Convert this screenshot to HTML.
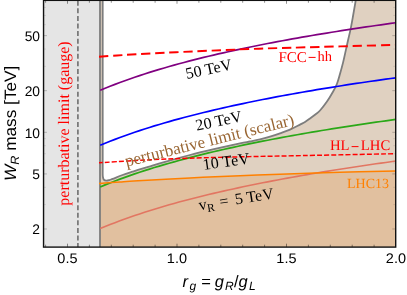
<!DOCTYPE html>
<html><head><meta charset="utf-8"><title>W_R mass vs r_g</title>
<style>
html,body{margin:0;padding:0;background:#fff;}
body{width:407px;height:295px;overflow:hidden;position:relative;font-family:"Liberation Sans",sans-serif;}
svg{position:absolute;left:0;top:0;display:block;transform:translateZ(0);will-change:transform;}
text{white-space:pre;text-rendering:geometricPrecision;}
.sans{font-family:"Liberation Sans",sans-serif;fill:#000;}
.serif{font-family:"Liberation Serif",serif;}
</style></head><body>
<svg width="407" height="295" viewBox="0 0 407 295">
<defs><clipPath id="cp"><rect x="43.55" y="0" width="352.15" height="247.1"/></clipPath></defs>
<rect x="0" y="0" width="407" height="295" fill="#fff"/>
<g clip-path="url(#cp)">
  <!-- gauge band -->
  <rect x="43.55" y="0" width="56.45" height="247.1" fill="#e5e5e5"/>
  <line x1="77.9" y1="0.8" x2="77.9" y2="247.1" stroke="#6e6e6e" stroke-width="1.6" stroke-dasharray="5,2.57"/>
  <!-- scalar region -->
  <path d="M102.70,0 L102.70,170 L102.70,170.00 C102.70,170.67 102.67,172.87 102.70,174.00 C102.73,175.13 102.72,175.87 102.90,176.80 C103.08,177.73 103.22,178.95 103.80,179.60 C104.38,180.25 105.40,180.62 106.35,180.70 C107.30,180.78 108.44,180.40 109.50,180.10 C110.56,179.80 110.52,179.75 112.70,178.90 C114.88,178.05 119.32,176.20 122.60,175.00 C125.88,173.80 129.83,172.55 132.40,171.70 C134.97,170.85 135.37,170.70 138.00,169.90 C140.63,169.10 143.70,168.23 148.20,166.90 C152.70,165.57 158.03,163.88 165.00,161.90 C171.97,159.92 181.67,157.17 190.00,155.00 C198.33,152.83 206.67,150.85 215.00,148.90 C223.33,146.95 234.17,144.53 240.00,143.30 C245.83,142.07 246.67,142.15 250.00,141.50 C253.33,140.85 256.67,140.22 260.00,139.40 C263.33,138.58 266.67,137.62 270.00,136.60 C273.33,135.58 276.67,134.47 280.00,133.30 C283.33,132.13 286.67,131.05 290.00,129.60 C293.33,128.15 297.50,125.87 300.00,124.60 C302.50,123.33 303.33,123.02 305.00,122.00 C306.67,120.98 308.33,119.72 310.00,118.50 C311.67,117.28 313.33,116.03 315.00,114.70 C316.67,113.37 318.00,112.68 320.00,110.50 C322.00,108.32 324.83,104.72 327.00,101.60 C329.17,98.48 331.35,94.73 333.00,91.80 C334.65,88.87 335.75,86.92 336.90,84.00 C338.05,81.08 338.87,77.90 339.90,74.30 C340.93,70.70 342.12,66.38 343.10,62.40 C344.08,58.42 344.97,54.13 345.80,50.40 C346.63,46.67 347.30,43.55 348.10,40.00 C348.90,36.45 349.75,33.27 350.60,29.10 C351.45,24.93 352.33,19.85 353.20,15.00 C354.07,10.15 355.37,2.50 355.80,0.00 L395.70,0 L395.70,247.10 L100,247.10 L100,0 Z" fill="#996633" fill-opacity="0.30" stroke="none"/>
  <!-- LHC13 region -->
  <path d="M99.00,183.60 C102.50,183.32 113.50,182.38 120.00,181.90 C126.50,181.42 126.33,181.37 138.00,180.70 C149.67,180.03 173.00,178.73 190.00,177.90 C207.00,177.07 225.00,176.32 240.00,175.70 C255.00,175.08 263.33,174.77 280.00,174.20 C296.67,173.63 320.72,172.83 340.00,172.30 C359.28,171.77 386.42,171.22 395.70,171.00 L395.70,247.10 L100,247.10 Z" fill="#e57c17" fill-opacity="0.20" stroke="none"/>
  <path d="M102.70,0 L102.70,170 L102.70,170.00 C102.70,170.67 102.67,172.87 102.70,174.00 C102.73,175.13 102.72,175.87 102.90,176.80 C103.08,177.73 103.22,178.95 103.80,179.60 C104.38,180.25 105.40,180.62 106.35,180.70 C107.30,180.78 108.44,180.40 109.50,180.10 C110.56,179.80 110.52,179.75 112.70,178.90 C114.88,178.05 119.32,176.20 122.60,175.00 C125.88,173.80 129.83,172.55 132.40,171.70 C134.97,170.85 135.37,170.70 138.00,169.90 C140.63,169.10 143.70,168.23 148.20,166.90 C152.70,165.57 158.03,163.88 165.00,161.90 C171.97,159.92 181.67,157.17 190.00,155.00 C198.33,152.83 206.67,150.85 215.00,148.90 C223.33,146.95 234.17,144.53 240.00,143.30 C245.83,142.07 246.67,142.15 250.00,141.50 C253.33,140.85 256.67,140.22 260.00,139.40 C263.33,138.58 266.67,137.62 270.00,136.60 C273.33,135.58 276.67,134.47 280.00,133.30 C283.33,132.13 286.67,131.05 290.00,129.60 C293.33,128.15 297.50,125.87 300.00,124.60 C302.50,123.33 303.33,123.02 305.00,122.00 C306.67,120.98 308.33,119.72 310.00,118.50 C311.67,117.28 313.33,116.03 315.00,114.70 C316.67,113.37 318.00,112.68 320.00,110.50 C322.00,108.32 324.83,104.72 327.00,101.60 C329.17,98.48 331.35,94.73 333.00,91.80 C334.65,88.87 335.75,86.92 336.90,84.00 C338.05,81.08 338.87,77.90 339.90,74.30 C340.93,70.70 342.12,66.38 343.10,62.40 C344.08,58.42 344.97,54.13 345.80,50.40 C346.63,46.67 347.30,43.55 348.10,40.00 C348.90,36.45 349.75,33.27 350.60,29.10 C351.45,24.93 352.33,19.85 353.20,15.00 C354.07,10.15 355.37,2.50 355.80,0.00" fill="none" stroke="#7d7d7d" stroke-width="1.8"/>
  <line x1="100" y1="0" x2="100" y2="247.1" stroke="#7d7d7d" stroke-width="1.8"/>
  <!-- vR curves -->
  <path d="M100.20,228.58 L105.12,226.54 L110.05,224.56 L114.98,222.64 L119.90,220.79 L124.83,218.99 L129.75,217.24 L134.68,215.54 L139.60,213.89 L144.53,212.29 L149.45,210.72 L154.38,209.19 L159.30,207.71 L164.23,206.25 L169.15,204.84 L174.07,203.45 L179.00,202.10 L183.93,200.77 L188.85,199.48 L193.78,198.21 L198.70,196.97 L203.62,195.75 L208.55,194.56 L213.48,193.39 L218.40,192.24 L223.32,191.12 L228.25,190.01 L233.18,188.93 L238.10,187.86 L243.02,186.82 L247.95,185.79 L252.88,184.78 L257.80,183.78 L262.73,182.80 L267.65,181.84 L272.57,180.89 L277.50,179.96 L282.43,179.04 L287.35,178.14 L292.27,177.24 L297.20,176.37 L302.12,175.50 L307.05,174.65 L311.98,173.81 L316.90,172.98 L321.82,172.16 L326.75,171.35 L331.68,170.55 L336.60,169.77 L341.52,168.99 L346.45,168.22 L351.38,167.47 L356.30,166.72 L361.22,165.98 L366.15,165.25 L371.07,164.53 L376.00,163.82 L380.93,163.12 L385.85,162.42 L390.77,161.73 L395.70,161.05" fill="none" stroke="#e27662" stroke-width="1.6"/>
  <path d="M100.20,186.95 L105.12,184.90 L110.05,182.93 L114.98,181.01 L119.90,179.16 L124.83,177.36 L129.75,175.61 L134.68,173.91 L139.60,172.26 L144.53,170.65 L149.45,169.09 L154.38,167.56 L159.30,166.07 L164.23,164.62 L169.15,163.20 L174.07,161.82 L179.00,160.47 L183.93,159.14 L188.85,157.85 L193.78,156.58 L198.70,155.34 L203.62,154.12 L208.55,152.93 L213.48,151.76 L218.40,150.61 L223.32,149.49 L228.25,148.38 L233.18,147.30 L238.10,146.23 L243.02,145.19 L247.95,144.16 L252.88,143.14 L257.80,142.15 L262.73,141.17 L267.65,140.21 L272.57,139.26 L277.50,138.33 L282.43,137.41 L287.35,136.50 L292.27,135.61 L297.20,134.73 L302.12,133.87 L307.05,133.01 L311.98,132.17 L316.90,131.34 L321.82,130.52 L326.75,129.72 L331.68,128.92 L336.60,128.13 L341.52,127.36 L346.45,126.59 L351.38,125.83 L356.30,125.09 L361.22,124.35 L366.15,123.62 L371.07,122.90 L376.00,122.19 L380.93,121.48 L385.85,120.79 L390.77,120.10 L395.70,119.42" fill="none" stroke="#2aa818" stroke-width="1.7"/>
  <path d="M100.20,145.32 L105.12,143.27 L110.05,141.29 L114.98,139.38 L119.90,137.52 L124.83,135.72 L129.75,133.98 L134.68,132.28 L139.60,130.63 L144.53,129.02 L149.45,127.45 L154.38,125.93 L159.30,124.44 L164.23,122.99 L169.15,121.57 L174.07,120.19 L179.00,118.83 L183.93,117.51 L188.85,116.21 L193.78,114.95 L198.70,113.71 L203.62,112.49 L208.55,111.30 L213.48,110.13 L218.40,108.98 L223.32,107.85 L228.25,106.75 L233.18,105.67 L238.10,104.60 L243.02,103.55 L247.95,102.52 L252.88,101.51 L257.80,100.52 L262.73,99.54 L267.65,98.58 L272.57,97.63 L277.50,96.69 L282.43,95.78 L287.35,94.87 L292.27,93.98 L297.20,93.10 L302.12,92.24 L307.05,91.38 L311.98,90.54 L316.90,89.71 L321.82,88.89 L326.75,88.08 L331.68,87.29 L336.60,86.50 L341.52,85.72 L346.45,84.96 L351.38,84.20 L356.30,83.45 L361.22,82.72 L366.15,81.99 L371.07,81.27 L376.00,80.55 L380.93,79.85 L385.85,79.16 L390.77,78.47 L395.70,77.79" fill="none" stroke="#0000ff" stroke-width="1.7"/>
  <path d="M100.20,90.28 L105.12,88.24 L110.05,86.26 L114.98,84.34 L119.90,82.49 L124.83,80.69 L129.75,78.94 L134.68,77.24 L139.60,75.59 L144.53,73.99 L149.45,72.42 L154.38,70.89 L159.30,69.41 L164.23,67.95 L169.15,66.54 L174.07,65.15 L179.00,63.80 L183.93,62.47 L188.85,61.18 L193.78,59.91 L198.70,58.67 L203.62,57.45 L208.55,56.26 L213.48,55.09 L218.40,53.94 L223.32,52.82 L228.25,51.71 L233.18,50.63 L238.10,49.56 L243.02,48.52 L247.95,47.49 L252.88,46.48 L257.80,45.48 L262.73,44.50 L267.65,43.54 L272.57,42.59 L277.50,41.66 L282.43,40.74 L287.35,39.84 L292.27,38.94 L297.20,38.07 L302.12,37.20 L307.05,36.35 L311.98,35.51 L316.90,34.68 L321.82,33.86 L326.75,33.05 L331.68,32.25 L336.60,31.47 L341.52,30.69 L346.45,29.92 L351.38,29.17 L356.30,28.42 L361.22,27.68 L366.15,26.95 L371.07,26.23 L376.00,25.52 L380.93,24.82 L385.85,24.12 L390.77,23.43 L395.70,22.75" fill="none" stroke="#800080" stroke-width="1.7"/>
  <path d="M99.00,183.60 C102.50,183.32 113.50,182.38 120.00,181.90 C126.50,181.42 126.33,181.37 138.00,180.70 C149.67,180.03 173.00,178.73 190.00,177.90 C207.00,177.07 225.00,176.32 240.00,175.70 C255.00,175.08 263.33,174.77 280.00,174.20 C296.67,173.63 320.72,172.83 340.00,172.30 C359.28,171.77 386.42,171.22 395.70,171.00" fill="none" stroke="#ff8000" stroke-width="1.5"/>
  <path d="M99.00,56.70 C102.00,56.49 110.83,55.85 117.00,55.45 C123.17,55.05 126.17,54.84 136.00,54.30 C145.83,53.76 158.67,53.02 176.00,52.20 C193.33,51.38 220.67,50.15 240.00,49.40 C259.33,48.65 266.05,48.45 292.00,47.70 C317.95,46.95 378.42,45.37 395.70,44.90" fill="none" stroke="#ff0000" stroke-width="1.9" stroke-dasharray="9.3,4.8"/>
  <path d="M99.00,162.80 C105.83,162.38 124.83,161.07 140.00,160.30 C155.17,159.53 171.67,158.82 190.00,158.20 C208.33,157.58 233.00,157.00 250.00,156.60 C267.00,156.20 267.72,156.28 292.00,155.80 C316.28,155.32 378.42,154.05 395.70,153.70" fill="none" stroke="#ff0000" stroke-width="1.45" stroke-dasharray="5,2.08" stroke-dashoffset="1.2"/>
</g>
<!-- ticks -->
<g stroke="#000" stroke-opacity="0.62" stroke-width="0.7" fill="none">
<line x1="45.60" y1="247.10" x2="45.60" y2="244.70"/>
<line x1="45.60" y1="0.35" x2="45.60" y2="2.75"/>
<line x1="67.50" y1="247.10" x2="67.50" y2="243.70"/>
<line x1="67.50" y1="0.35" x2="67.50" y2="3.75"/>
<line x1="89.40" y1="247.10" x2="89.40" y2="244.70"/>
<line x1="89.40" y1="0.35" x2="89.40" y2="2.75"/>
<line x1="111.30" y1="247.10" x2="111.30" y2="244.70"/>
<line x1="111.30" y1="0.35" x2="111.30" y2="2.75"/>
<line x1="133.20" y1="247.10" x2="133.20" y2="244.70"/>
<line x1="133.20" y1="0.35" x2="133.20" y2="2.75"/>
<line x1="155.10" y1="247.10" x2="155.10" y2="244.70"/>
<line x1="155.10" y1="0.35" x2="155.10" y2="2.75"/>
<line x1="177.00" y1="247.10" x2="177.00" y2="243.70"/>
<line x1="177.00" y1="0.35" x2="177.00" y2="3.75"/>
<line x1="198.90" y1="247.10" x2="198.90" y2="244.70"/>
<line x1="198.90" y1="0.35" x2="198.90" y2="2.75"/>
<line x1="220.80" y1="247.10" x2="220.80" y2="244.70"/>
<line x1="220.80" y1="0.35" x2="220.80" y2="2.75"/>
<line x1="242.70" y1="247.10" x2="242.70" y2="244.70"/>
<line x1="242.70" y1="0.35" x2="242.70" y2="2.75"/>
<line x1="264.60" y1="247.10" x2="264.60" y2="244.70"/>
<line x1="264.60" y1="0.35" x2="264.60" y2="2.75"/>
<line x1="286.50" y1="247.10" x2="286.50" y2="243.70"/>
<line x1="286.50" y1="0.35" x2="286.50" y2="3.75"/>
<line x1="308.40" y1="247.10" x2="308.40" y2="244.70"/>
<line x1="308.40" y1="0.35" x2="308.40" y2="2.75"/>
<line x1="330.30" y1="247.10" x2="330.30" y2="244.70"/>
<line x1="330.30" y1="0.35" x2="330.30" y2="2.75"/>
<line x1="352.20" y1="247.10" x2="352.20" y2="244.70"/>
<line x1="352.20" y1="0.35" x2="352.20" y2="2.75"/>
<line x1="374.10" y1="247.10" x2="374.10" y2="244.70"/>
<line x1="374.10" y1="0.35" x2="374.10" y2="2.75"/>
</g>
<g stroke="#000" stroke-opacity="0.33" stroke-width="0.7" fill="none">
<line x1="43.55" y1="228.97" x2="46.95" y2="228.97"/>
<line x1="395.70" y1="228.97" x2="392.30" y2="228.97"/>
<line x1="43.55" y1="173.93" x2="46.95" y2="173.93"/>
<line x1="395.70" y1="173.93" x2="392.30" y2="173.93"/>
<line x1="43.55" y1="132.30" x2="46.95" y2="132.30"/>
<line x1="395.70" y1="132.30" x2="392.30" y2="132.30"/>
<line x1="43.55" y1="90.67" x2="46.95" y2="90.67"/>
<line x1="395.70" y1="90.67" x2="392.30" y2="90.67"/>
<line x1="43.55" y1="35.63" x2="46.95" y2="35.63"/>
<line x1="395.70" y1="35.63" x2="392.30" y2="35.63"/>
</g>
<g stroke="#000" stroke-opacity="0.15" stroke-width="0.7" fill="none">
<line x1="43.55" y1="204.61" x2="45.95" y2="204.61"/>
<line x1="395.70" y1="204.61" x2="393.30" y2="204.61"/>
<line x1="43.55" y1="187.34" x2="45.95" y2="187.34"/>
<line x1="395.70" y1="187.34" x2="393.30" y2="187.34"/>
<line x1="43.55" y1="162.98" x2="45.95" y2="162.98"/>
<line x1="395.70" y1="162.98" x2="393.30" y2="162.98"/>
<line x1="43.55" y1="153.72" x2="45.95" y2="153.72"/>
<line x1="395.70" y1="153.72" x2="393.30" y2="153.72"/>
<line x1="43.55" y1="145.70" x2="45.95" y2="145.70"/>
<line x1="395.70" y1="145.70" x2="393.30" y2="145.70"/>
<line x1="43.55" y1="138.63" x2="45.95" y2="138.63"/>
<line x1="395.70" y1="138.63" x2="393.30" y2="138.63"/>
<line x1="43.55" y1="66.31" x2="45.95" y2="66.31"/>
<line x1="395.70" y1="66.31" x2="393.30" y2="66.31"/>
<line x1="43.55" y1="49.04" x2="45.95" y2="49.04"/>
<line x1="395.70" y1="49.04" x2="393.30" y2="49.04"/>
<line x1="43.55" y1="24.68" x2="45.95" y2="24.68"/>
<line x1="395.70" y1="24.68" x2="393.30" y2="24.68"/>
<line x1="43.55" y1="15.42" x2="45.95" y2="15.42"/>
<line x1="395.70" y1="15.42" x2="393.30" y2="15.42"/>
<line x1="43.55" y1="7.40" x2="45.95" y2="7.40"/>
<line x1="395.70" y1="7.40" x2="393.30" y2="7.40"/>
</g>
<!-- frame -->
<rect x="43.55" y="0.35" width="352.15" height="246.75" fill="none" stroke="#111" stroke-width="1.4"/>

<!-- tick labels -->
<text class="sans" font-size="13.8" text-anchor="end" transform="translate(40.00,40.88) scale(1.0,1)">50</text>
<text class="sans" font-size="13.8" text-anchor="end" transform="translate(40.00,95.92) scale(1.0,1)">20</text>
<text class="sans" font-size="13.8" text-anchor="end" transform="translate(40.00,137.55) scale(1.0,1)">10</text>
<text class="sans" font-size="13.8" text-anchor="end" transform="translate(40.00,179.18) scale(1.0,1)">5</text>
<text class="sans" font-size="13.8" text-anchor="end" transform="translate(40.00,234.22) scale(1.0,1)">2</text>
<text class="sans" font-size="13.8" text-anchor="middle" transform="translate(67.40,263.35) scale(1.05,1)">0.5</text>
<text class="sans" font-size="13.8" text-anchor="middle" transform="translate(176.90,263.35) scale(1.05,1)">1.0</text>
<text class="sans" font-size="13.8" text-anchor="middle" transform="translate(286.40,263.35) scale(1.05,1)">1.5</text>
<text class="sans" font-size="13.8" text-anchor="middle" transform="translate(395.90,263.35) scale(1.05,1)">2.0</text>
<!-- axis labels -->
<text class="sans" font-size="16.5" text-anchor="middle" transform="translate(16.0,123.3) rotate(-90) scale(1.045,1)"><tspan font-style="italic">W</tspan><tspan font-style="italic" font-size="12" dy="3.3">R</tspan><tspan dy="-3.3"> mass [TeV]</tspan></text>
<g class="sans" font-size="16.5" font-style="italic">
<text x="182.6" y="287.1">r</text>
<text x="189.6" y="290.4" font-size="12">g</text>
<text x="201.3" y="287.1" font-style="normal">=</text>
<text x="214.7" y="287.1">g</text>
<text x="225.0" y="290.4" font-size="12">R</text>
<text x="234.0" y="287.1" font-style="normal">/</text>
<text x="238.6" y="287.1">g</text>
<text x="248.9" y="290.4" font-size="12">L</text>
</g>

<!-- in-plot labels -->
<text class="serif" font-size="16" fill="#ff0000" text-anchor="middle" transform="translate(69.3,123.5) rotate(-90)">perturbative limit (gauge)</text>
<text class="serif" font-size="16" fill="#000" transform="translate(186.8,79.0) rotate(-12)">50 TeV</text>
<text class="serif" font-size="16" fill="#000" transform="translate(196.8,130.8) rotate(-12)">20 TeV</text>
<text class="serif" font-size="16" fill="#000" transform="translate(203.6,169.9) rotate(-8)">10 TeV</text>
<text class="serif" font-size="16" fill="#000" transform="translate(199.5,210.3) rotate(-9)">v<tspan font-size="11.5" dy="3">R</tspan><tspan dy="-3" dx="1.4"> =</tspan><tspan dx="2.6"> 5 TeV</tspan></text>
<text class="serif" font-size="17" fill="#996633" transform="translate(126.5,166.7) rotate(-14)">perturbative limit (scalar)</text>
<text class="serif" font-size="15" fill="#ff0000" x="278.5" y="61.5">FCC</text>
<rect x="308.6" y="56.9" width="7.0" height="1" fill="#ff0000"/>
<text class="serif" font-size="14.5" fill="#ff0000" x="317.5" y="61.3">hh</text>
<text class="serif" font-size="14.7" fill="#ff0000" x="330.0" y="149.9">HL</text>
<rect x="351.6" y="146.1" width="6.9" height="1" fill="#ff0000"/>
<text class="serif" font-size="14.7" fill="#ff0000" text-anchor="end" x="390.2" y="149.9">LHC</text>
<text class="serif" font-size="14" fill="#ff8000" x="347.0" y="188.1">LHC13</text>
</svg>
</body></html>
